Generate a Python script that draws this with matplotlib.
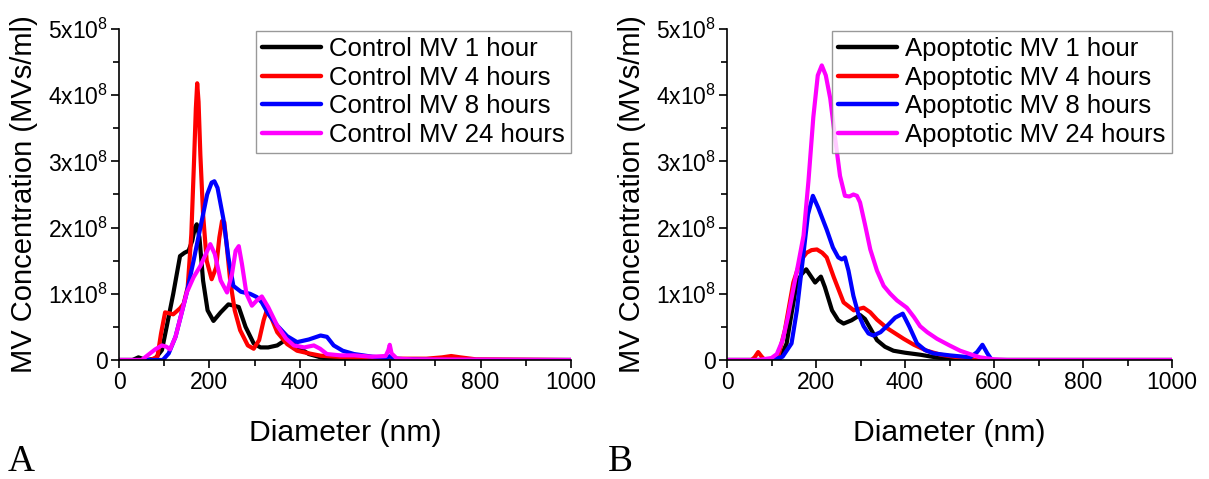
import matplotlib
matplotlib.use("Agg")
import matplotlib.pyplot as plt
import numpy as np

plt.rcParams['font.family'] = ['Liberation Sans', 'DejaVu Sans']
plt.rcParams['mathtext.fontset'] = 'custom'
plt.rcParams['mathtext.rm'] = 'Liberation Sans'
plt.rcParams['mathtext.default'] = 'regular'

SCALE = 1e8

# ---------------- Panel A: Control MV ----------------
ctrl_1h_x = [0, 30, 43, 60, 80, 95, 106, 120, 135, 145, 154, 162, 168, 172, 178, 186, 196, 209, 225, 242, 255, 265, 280, 298, 313, 330, 350, 372, 395, 420, 446, 470, 500, 1000]
ctrl_1h_y = [0, 0, 0.04, 0.0, 0.02, 0.15, 0.52, 1.0, 1.57, 1.62, 1.65, 1.8, 2.0, 2.05, 1.85, 1.2, 0.75, 0.59, 0.72, 0.84, 0.82, 0.8, 0.5, 0.25, 0.19, 0.19, 0.22, 0.32, 0.2, 0.09, 0.04, 0.01, 0.0, 0.0]

ctrl_4h_x = [0, 70, 85, 93, 102, 120, 135, 143, 152, 160, 166, 170, 173, 176, 180, 186, 194, 205, 215, 222, 228, 233, 238, 246, 256, 268, 285, 298, 310, 320, 327, 338, 350, 372, 394, 420, 446, 480, 530, 580, 620, 680, 715, 735, 755, 790, 1000]
ctrl_4h_y = [0, 0, 0.05, 0.4, 0.72, 0.69, 0.78, 0.85, 1.1, 1.9, 3.0, 3.8, 4.18, 3.9, 3.1, 2.2, 1.5, 1.22, 1.4, 1.85, 2.1, 2.08, 1.75, 1.2, 0.75, 0.45, 0.22, 0.17, 0.3, 0.6, 0.75, 0.62, 0.42, 0.24, 0.14, 0.1, 0.065, 0.05, 0.03, 0.02, 0.02, 0.02, 0.04, 0.06, 0.04, 0.01, 0.0]

ctrl_8h_x = [0, 80, 97, 110, 125, 140, 150, 165, 180, 195, 205, 211, 218, 231, 242, 253, 270, 290, 305, 316, 330, 350, 372, 394, 420, 446, 460, 475, 495, 520, 560, 592, 600, 608, 640, 700, 1000]
ctrl_8h_y = [0, 0, 0.0, 0.1, 0.35, 0.75, 1.02, 1.5, 2.0, 2.5, 2.68, 2.7, 2.6, 2.13, 1.55, 1.12, 1.03, 1.0, 0.95, 0.87, 0.7, 0.52, 0.36, 0.27, 0.31, 0.37, 0.35, 0.22, 0.14, 0.09, 0.05, 0.03, 0.06, 0.02, 0.01, 0.0, 0.0]

ctrl_24h_x = [0, 50, 65, 80, 95, 105, 113, 125, 140, 150, 165, 180, 192, 202, 212, 225, 239, 250, 258, 265, 272, 282, 294, 305, 316, 330, 350, 370, 387, 410, 431, 445, 460, 490, 520, 560, 590, 596, 599, 603, 615, 650, 1000]
ctrl_24h_y = [0, 0, 0.08, 0.16, 0.22, 0.2, 0.16, 0.35, 0.75, 1.02, 1.25, 1.42, 1.6, 1.75, 1.6, 1.2, 1.02, 1.3, 1.65, 1.72, 1.45, 1.0, 0.82, 0.9, 0.96, 0.8, 0.52, 0.32, 0.22, 0.19, 0.22, 0.17, 0.09, 0.07, 0.07, 0.05, 0.06, 0.15, 0.23, 0.1, 0.02, 0.01, 0.0]

# ---------------- Panel B: Apoptotic MV ----------------
apo_1h_x = [0, 100, 120, 134, 145, 157, 168, 178, 188, 198, 205, 211, 220, 236, 250, 262, 280, 299, 310, 322, 337, 355, 374, 400, 434, 460, 480, 510, 1000]
apo_1h_y = [0, 0, 0.03, 0.25, 0.7, 1.17, 1.3, 1.37, 1.27, 1.17, 1.22, 1.26, 1.1, 0.75, 0.6, 0.55, 0.6, 0.68, 0.62, 0.48, 0.3, 0.2, 0.14, 0.11, 0.08, 0.05, 0.03, 0.0, 0.0]

apo_4h_x = [0, 55, 62, 70, 78, 85, 100, 115, 130, 149, 165, 179, 190, 202, 214, 224, 240, 262, 285, 307, 322, 337, 360, 397, 420, 449, 480, 510, 560, 1000]
apo_4h_y = [0, 0, 0.04, 0.12, 0.05, 0.0, 0.0, 0.05, 0.45, 1.17, 1.5, 1.62, 1.66, 1.67, 1.62, 1.55, 1.25, 0.87, 0.75, 0.79, 0.72, 0.61, 0.48, 0.32, 0.23, 0.14, 0.08, 0.05, 0.0, 0.0]

apo_8h_x = [0, 100, 125, 145, 157, 170, 182, 193, 205, 224, 238, 250, 258, 265, 273, 284, 295, 307, 318, 329, 345, 359, 378, 395, 410, 427, 445, 464, 500, 547, 562, 574, 585, 595, 1000]
apo_8h_y = [0, 0, 0.05, 0.25, 0.75, 1.5, 2.2, 2.48, 2.3, 1.97, 1.7, 1.55, 1.52, 1.55, 1.35, 0.97, 0.7, 0.51, 0.4, 0.37, 0.42, 0.51, 0.64, 0.7, 0.5, 0.25, 0.15, 0.1, 0.07, 0.04, 0.12, 0.23, 0.1, 0.0, 0.0]

apo_24h_x = [0, 70, 100, 112, 125, 137, 149, 160, 172, 183, 194, 204, 213, 222, 232, 243, 254, 265, 275, 284, 292, 299, 310, 322, 337, 352, 367, 382, 404, 420, 434, 450, 472, 500, 524, 550, 569, 600, 630, 1000]
apo_24h_y = [0, 0, 0.03, 0.09, 0.3, 0.65, 1.07, 1.45, 1.88, 2.7, 3.67, 4.3, 4.45, 4.3, 3.95, 3.35, 2.78, 2.48, 2.47, 2.5, 2.48, 2.38, 2.05, 1.67, 1.35, 1.12, 1.0, 0.9, 0.79, 0.65, 0.51, 0.42, 0.32, 0.22, 0.14, 0.08, 0.04, 0.01, 0.0, 0.0]

ctrl_labels = ['Control MV 1 hour', 'Control MV 4 hours', 'Control MV 8 hours', 'Control MV 24 hours']
apo_labels = ['Apoptotic MV 1 hour', 'Apoptotic MV 4 hours', 'Apoptotic MV 8 hours', 'Apoptotic MV 24 hours']
colors = ['#000000', '#ff0000', '#0000ff', '#ff00ff']

y_ticks = [0, 1, 2, 3, 4, 5]
y_ticklabels = ['0', r'1x10$^{8}$', r'2x10$^{8}$', r'3x10$^{8}$', r'4x10$^{8}$', r'5x10$^{8}$']
x_ticks = [0, 200, 400, 600, 800, 1000]

fig = plt.figure(figsize=(12.09, 4.79), dpi=100)
W, H = 1209, 479
axA = fig.add_axes([119 / W, (H - 360) / H, (571 - 119) / W, (360 - 29) / H])
axB = fig.add_axes([727 / W, (H - 360) / H, (1172 - 727) / W, (360 - 29) / H])

ctrl = [(ctrl_1h_x, ctrl_1h_y), (ctrl_4h_x, ctrl_4h_y), (ctrl_8h_x, ctrl_8h_y), (ctrl_24h_x, ctrl_24h_y)]
apo = [(apo_1h_x, apo_1h_y), (apo_4h_x, apo_4h_y), (apo_8h_x, apo_8h_y), (apo_24h_x, apo_24h_y)]

for ax, series, labels in [(axA, ctrl, ctrl_labels), (axB, apo, apo_labels)]:
    for (xs, ys), lab, c in zip(series, labels, colors):
        ax.plot(xs, np.array(ys) * SCALE, color=c, lw=3.0, label=lab,
                solid_joinstyle='round', solid_capstyle='round')
    ax.set_xlim(0, 1000)
    ax.set_ylim(0, 5 * SCALE)
    ax.spines['top'].set_visible(False)
    ax.spines['right'].set_visible(False)
    for s in ['left', 'bottom']:
        ax.spines[s].set_linewidth(1.2)
    ax.set_xticks(x_ticks)
    ax.set_xticks(np.arange(100, 1000, 200), minor=True)
    ax.set_yticks(np.array(y_ticks) * SCALE)
    ax.set_yticklabels(y_ticklabels)
    ax.set_yticks(np.arange(0.5, 5, 1) * SCALE, minor=True)
    ax.tick_params(which='major', direction='out', length=6, width=1.2, labelsize=16.5, pad=2)
    ax.tick_params(which='minor', direction='out', length=4, width=1.2)
    ax.set_xlabel('Diameter (nm)', fontsize=21.7, labelpad=18)
    ax.set_ylabel('MV Concentration (MVs/ml)', fontsize=21, labelpad=7)
    leg = ax.legend(loc='upper right', bbox_to_anchor=(1.0, 0.995), fontsize=18.5, frameon=True,
                    fancybox=False, edgecolor='#808080', handlelength=2.3, labelspacing=0.18,
                    borderpad=0.25, handletextpad=0.3, borderaxespad=0)
    leg.get_frame().set_linewidth(1.0)
    for line in leg.get_lines():
        line.set_linewidth(3.2)

fig.text(8 / W, 1 - 471 / H, 'A', fontsize=27, family='Liberation Serif', va='baseline')
fig.text(608 / W, 1 - 471 / H, 'B', fontsize=27, family='Liberation Serif', va='baseline')

fig.savefig('out.png', dpi=100)
